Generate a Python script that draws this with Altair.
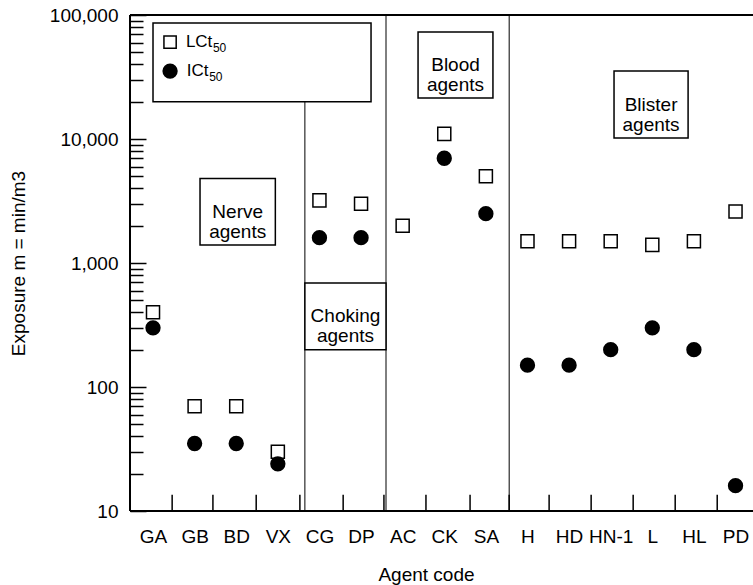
import json
import math
import altair as alt
import pandas as pd

# ---------------- data ----------------
codes = ["GA", "GB", "BD", "VX", "CG", "DP", "AC", "CK", "SA",
         "H", "HD", "HN-1", "L", "HL", "PD"]
lct50 = [400, 70, 70, 30, 3200, 3000, 2000, 11000, 5000,
         1500, 1500, 1500, 1400, 1500, 2600]
ict50 = [300, 35, 35, 24, 1600, 1600, None, 7000, 2500,
         150, 150, 200, 300, 200, 16]

# inward x-axis tick positions (between agent codes)
tick_pos = [0.46, 1.44, 2.48, 3.53, 4.57, 5.55, 6.56, 7.62, 8.56,
            9.52, 10.53, 11.54, 12.55, 13.56]

# group separator lines
sep_x = [3.65, 5.60, 8.56]
sep_top = [20000, 100000, 100000]

# annotation boxes (data coordinates)
box_labels = ["", "Nerve\nagents", "Choking\nagents", "Blood\nagents", "Blister\nagents"]
box_x1 = [0.0, 1.13, 3.65, 6.37, 11.08]
box_x2 = [5.24, 2.94, 5.60, 8.17, 12.86]
box_y1 = [20000, 1400, 200, 21400, 10200]
box_y2 = [86000, 4800, 690, 72900, 35300]

# legend entries
leg_names = ["LCt", "ICt"]
leg_sub = ["50", "50"]
leg_marker_x = [0.41, 0.41]
leg_text_x = [0.79, 0.81]
leg_sub_x = [1.44, 1.35]
leg_y = [60500, 35300]

y_major = [10, 100, 1000, 10000, 100000]
y_minor = [k * 10 ** d for d in range(1, 5) for k in range(2, 10)]

# ---------------- styling ----------------
W, H = 623, 496
FONT = "Liberation Sans"
FS = 19
X_MIN, X_MAX = -0.553, 14.42
Y_MIN, Y_MAX = 10, 100000
xs = alt.Scale(domain=[X_MIN, X_MAX], nice=False, zero=False)
ys = alt.Scale(type="log", domain=[Y_MIN, Y_MAX], nice=False)

df = pd.DataFrame({"i": list(range(len(codes))), "code": codes,
                   "lct": lct50, "ict": ict50})
df_ict = df.dropna(subset=["ict"])

label_expr = json.dumps(codes) + "[datum.value]"

x_axis = alt.Axis(values=list(range(len(codes))), labelExpr=label_expr,
                  tickSize=0, domain=False,
                  labelFont=FONT, labelFontSize=FS, labelColor="black",
                  labelPadding=16, labelFlush=False, labelOverlap=False,
                  title="Agent code", titleFont=FONT, titleFontSize=FS,
                  titleFontWeight="normal", titleColor="black",
                  titleX=296, titleY=63, titleAlign="center",
                  titleBaseline="middle", grid=False)

y_axis = alt.Axis(values=y_major, format=",", tickSize=0, domain=False,
                  labelFont=FONT, labelFontSize=FS, labelColor="black",
                  labelPadding=12, labelFlush=False,
                  title="Exposure m = min/m3", titleFont=FONT,
                  titleFontSize=FS, titleFontWeight="normal",
                  titleColor="black", titleX=-112, titleY=248,
                  titleAngle=270, titleAlign="center",
                  titleBaseline="middle", grid=False)

tick_axis = alt.Axis(orient="right", offset=-W, values=y_major + y_minor,
                     labels=False, domain=False, tickColor="black",
                     tickWidth=1.5,
                     tickSize={"condition": {"test": "indexof([10,100,1000,10000,100000], datum.value) >= 0",
                                             "value": 16}, "value": 13},
                     title=None, grid=False)

X = lambda f: alt.X(f, scale=xs, axis=x_axis)

# ---------------- layers ----------------
squares = alt.Chart(df).mark_square(size=170, fill="white", stroke="black",
                                    strokeWidth=1.5, opacity=1).encode(
    x=X("i:Q"),
    y=alt.Y("lct:Q", scale=ys, axis=y_axis),
)

circles = alt.Chart(df_ict).mark_circle(size=235, color="black", opacity=1).encode(
    x=X("i:Q"),
    y=alt.Y("ict:Q", scale=ys, axis=None),
)

ytick_df = pd.DataFrame({"v": y_major + y_minor, "x": [X_MIN] * (len(y_major) + len(y_minor))})
yticks = alt.Chart(ytick_df).mark_point(opacity=0).encode(
    x=X("x:Q"),
    y=alt.Y("v:Q", scale=ys, axis=tick_axis),
)

xtick_df = pd.DataFrame({"x": tick_pos, "y1": [Y_MIN] * len(tick_pos),
                         "y2": [13.5] * len(tick_pos)})
xticks = alt.Chart(xtick_df).mark_rule(color="black", strokeWidth=1.5).encode(
    x=X("x:Q"),
    y=alt.Y("y1:Q", scale=ys, axis=None),
    y2="y2:Q",
)

sep_df = pd.DataFrame({"x": sep_x, "y1": [Y_MIN] * len(sep_x), "y2": sep_top})
seps = alt.Chart(sep_df).mark_rule(color="black", strokeWidth=1).encode(
    x=X("x:Q"),
    y=alt.Y("y1:Q", scale=ys, axis=None),
    y2="y2:Q",
)

# frame: top border, left and bottom axis lines
frame_h = pd.DataFrame({"x1": [X_MIN, X_MIN], "x2": [X_MAX, X_MAX], "y": [Y_MAX, Y_MIN]})
frame_h_rules = alt.Chart(frame_h).mark_rule(color="black", strokeWidth=2).encode(
    x=X("x1:Q"), x2="x2:Q",
    y=alt.Y("y:Q", scale=ys, axis=None),
)
frame_v = pd.DataFrame({"x": [X_MIN], "y1": [Y_MIN], "y2": [Y_MAX]})
frame_v_rules = alt.Chart(frame_v).mark_rule(color="black", strokeWidth=2).encode(
    x=X("x:Q"),
    y=alt.Y("y1:Q", scale=ys, axis=None), y2="y2:Q",
)

box_df = pd.DataFrame({"label": box_labels, "x1": box_x1, "x2": box_x2,
                       "y1": box_y1, "y2": box_y2})
box_df["xm"] = (box_df["x1"] + box_df["x2"]) / 2
box_df["ym"] = [math.sqrt(a * b) for a, b in zip(box_y1, box_y2)]

boxes = alt.Chart(box_df).mark_rect(fill="white", stroke="black",
                                    strokeWidth=1.5).encode(
    x=X("x1:Q"), x2="x2:Q",
    y=alt.Y("y1:Q", scale=ys, axis=None), y2="y2:Q",
)

box_text = alt.Chart(box_df).mark_text(font=FONT, fontSize=FS, lineBreak="\n",
                                       lineHeight=20, align="center",
                                       baseline="middle", color="black").encode(
    x=X("xm:Q"),
    y=alt.Y("ym:Q", scale=ys, axis=None),
    text="label:N",
)

leg_df = pd.DataFrame({"name": leg_names, "sub": leg_sub, "mx": leg_marker_x,
                       "tx": leg_text_x, "sx": leg_sub_x, "y": leg_y})
leg_sq = alt.Chart(leg_df.iloc[[0]]).mark_square(size=150, fill="white",
                                                  stroke="black", strokeWidth=1.5,
                                                  opacity=1).encode(
    x=X("mx:Q"),
    y=alt.Y("y:Q", scale=ys, axis=None),
)
leg_ci = alt.Chart(leg_df.iloc[[1]]).mark_circle(size=235, color="black",
                                                  opacity=1).encode(
    x=X("mx:Q"),
    y=alt.Y("y:Q", scale=ys, axis=None),
)
leg_txt = alt.Chart(leg_df).mark_text(font=FONT, fontSize=17, align="left",
                                      baseline="middle", color="black").encode(
    x=X("tx:Q"),
    y=alt.Y("y:Q", scale=ys, axis=None),
    text="name:N",
)
leg_subtxt = alt.Chart(leg_df).mark_text(font=FONT, fontSize=12, align="left",
                                         baseline="middle", dy=6,
                                         color="black").encode(
    x=X("sx:Q"),
    y=alt.Y("y:Q", scale=ys, axis=None),
    text="sub:N",
)

chart = alt.layer(
    seps, boxes, box_text, xticks, frame_h_rules, frame_v_rules, yticks,
    leg_sq, leg_ci, leg_txt, leg_subtxt,
    squares, circles,
).resolve_axis(y="independent").properties(
    width=W, height=H,
    autosize=alt.AutoSizeParams(type="none"),
    padding={"left": 130, "top": 15, "right": 0, "bottom": 74},
    background="white",
).configure_view(stroke=None)

chart.save("out.html", embed_options={"renderer": "svg", "actions": False})
